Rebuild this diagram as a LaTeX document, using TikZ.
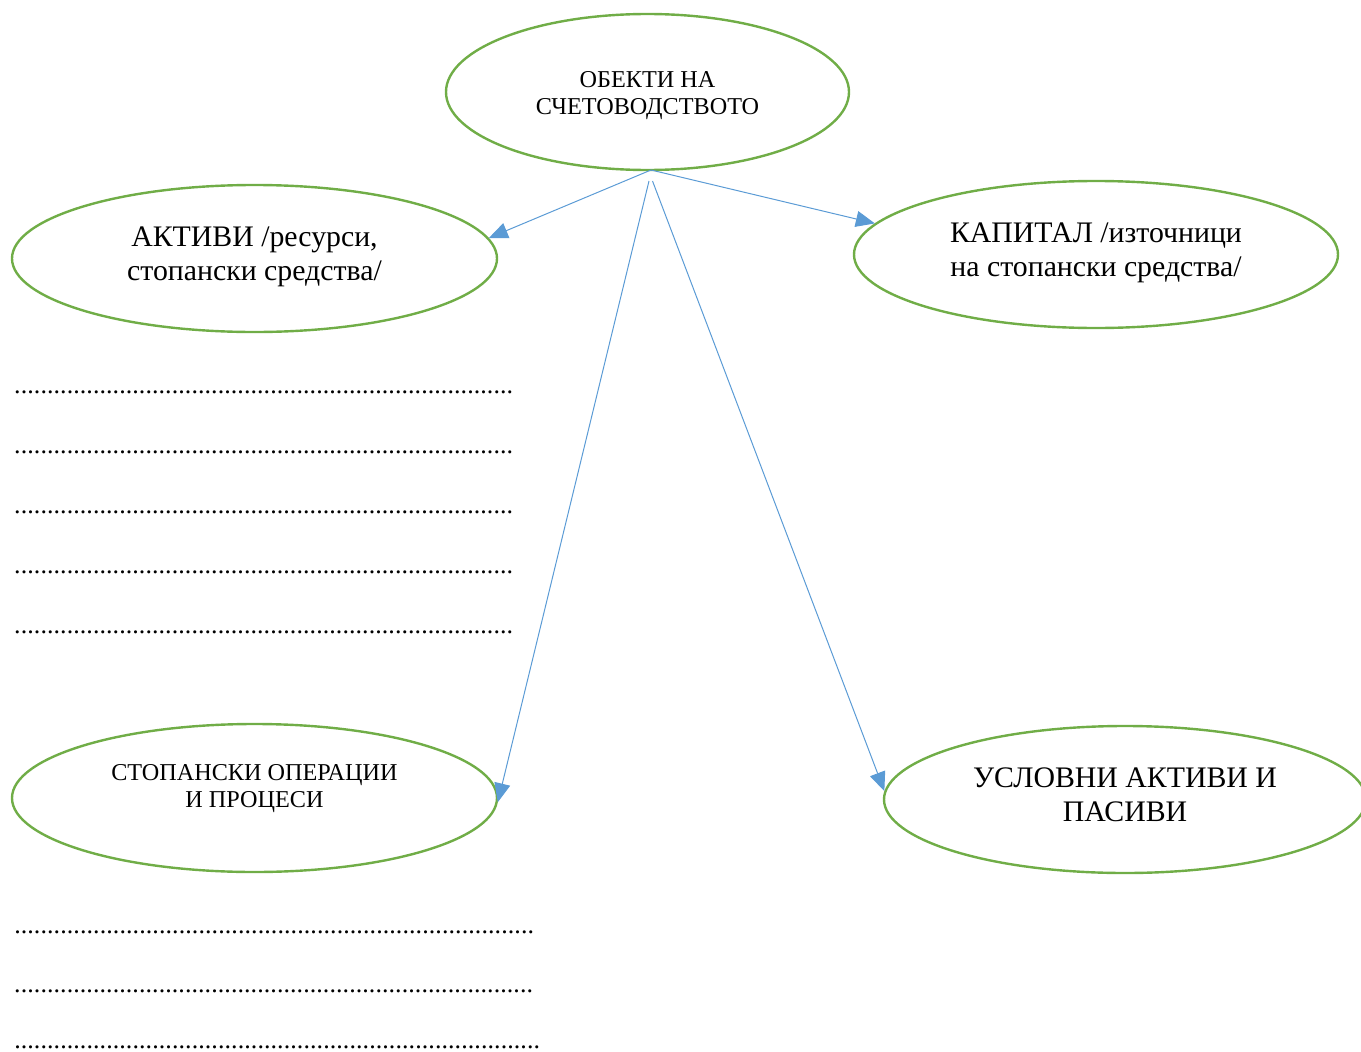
\documentclass[tikz,border=0pt]{standalone}
\usepackage{fontspec}
\setmainfont{Liberation Serif}
\usetikzlibrary{shapes.geometric,arrows.meta}
\definecolor{ogreen}{HTML}{70AD47}
\definecolor{oblue}{HTML}{5B9BD5}
\newcommand{\dotrow}[1]{\hbox to #1{\xleaders\hbox to 6.55pt{\hss.\hss}\hfill}}
\tikzset{
  oval/.style={ellipse, draw=ogreen, line width=2.4pt, inner sep=0pt},
  smalltext/.style={align=center, font=\fontsize{24.2}{27}\selectfont, inner sep=0pt},
  bigtext/.style={align=center, font=\fontsize{29.8}{34}\selectfont, inner sep=0pt},
  dotline/.style={anchor=base west, inner sep=0pt, font=\fontsize{26}{30}\selectfont},
  link/.style={draw=oblue, line width=1pt, -{Triangle[length=19pt,width=16pt]}}
}
\begin{document}
\begin{tikzpicture}[x=1pt,y=-1pt]
\useasboundingbox (0,0) rectangle (1361,1052);
\clip (0,0) rectangle (1361,1052);
% ellipses
\node[oval, minimum width=403pt, minimum height=156pt] (top) at (647.5,92) {};
\node[oval, minimum width=485pt, minimum height=147pt] (akt) at (254.5,258.5) {};
\node[oval, minimum width=484pt, minimum height=147pt] (kap) at (1096,254.5) {};
\node[oval, minimum width=485pt, minimum height=148pt] (sto) at (254.5,798) {};
\node[oval, minimum width=482pt, minimum height=147pt] (usl) at (1125,799.5) {};
% labels
\node[smalltext] (ttop) at (647.5,95.5) {ОБЕКТИ НА\\СЧЕТОВОДСТВОТО};
\node[bigtext] (takt) at (254.5,256.5) {АКТИВИ /ресурси,\\стопански средства/};
\node[bigtext] (tkap) at (1096,252.5) {КАПИТАЛ /източници\\на стопански средства/};
\node[smalltext] (tsto) at (254.5,788.5) {СТОПАНСКИ ОПЕРАЦИИ\\И ПРОЦЕСИ};
\node[bigtext] (tusl) at (1125,794.5) {УСЛОВНИ АКТИВИ И\\ПАСИВИ};
% arrows
\coordinate (s0) at (651,170);
\coordinate (s1) at (649,181);
\coordinate (s2) at (652.5,181);
\draw[link] (s0) -- (akt.5.7);
\draw[link] (s0) -- (kap.172.4);
\draw[link] (s1) -- (sto.-1.7);
\draw[link] (s2) -- (usl.178.9);
% dotted lines
\node[dotline] (d1) at (14,393) {\dotrow{499pt}};
\node[dotline] (d2) at (14,453) {\dotrow{499pt}};
\node[dotline] (d3) at (14,513) {\dotrow{499pt}};
\node[dotline] (d4) at (14,573) {\dotrow{499pt}};
\node[dotline] (d5) at (14,633) {\dotrow{499pt}};
\node[dotline] (d6) at (14,933.5) {\dotrow{520pt}};
\node[dotline] (d7) at (14,992.5) {\dotrow{519pt}};
\node[dotline] (d8) at (14,1048) {\dotrow{526pt}};
\end{tikzpicture}
\end{document}
